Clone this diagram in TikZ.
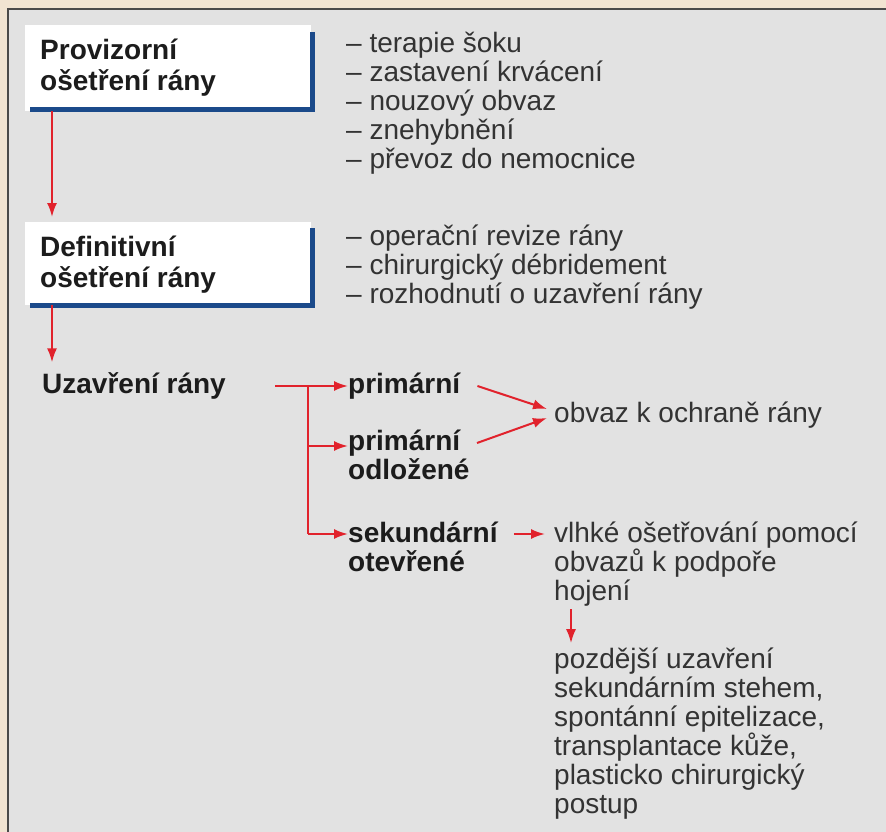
\documentclass[tikz,border=0pt]{standalone}
\usepackage{fontspec}
\setmainfont{Liberation Sans}
\usetikzlibrary{arrows.meta,calc}
\definecolor{bgbeige}{HTML}{F1E4D2}
\definecolor{panelgray}{HTML}{E2E2E2}
\definecolor{framegray}{HTML}{4A4A4A}
\definecolor{boxblue}{HTML}{1B4A8A}
\definecolor{arrred}{HTML}{E1222C}
\definecolor{txtdark}{HTML}{333333}
\definecolor{txtbold}{HTML}{1C1C1C}
\begin{document}
\begin{tikzpicture}[x=1pt,y=-1pt,
  whitebox/.style={fill=white,draw=none,anchor=north west,inner sep=0pt,minimum width=286pt},
  bluel/.style={draw=boxblue,line width=5pt,line join=miter},
  boldtxt/.style={font=\fontsize{28}{31}\selectfont\bfseries,text=txtbold,anchor=base west,inner sep=0pt,align=left},
  boldlist/.style={boldtxt,font=\fontsize{28}{29}\selectfont\bfseries},
  regtxt/.style={font=\fontsize{28}{29}\selectfont,text=txtdark,anchor=base west,inner sep=0pt,align=left},
  arr/.style={draw=arrred,line width=2pt,-{Latex[length=14pt,width=10pt]}},
  redline/.style={draw=arrred,line width=2pt}]
\useasboundingbox (0,0) rectangle (886,832);
\fill[bgbeige] (0,0) rectangle (886,832);
\fill[panelgray] (8,9) rectangle (886,832);
\draw[framegray,line width=2pt] (8,832) -- (8,9) -- (886,9);

% box 1 (anchor base west = baseline of the last line)
\node[whitebox,minimum height=86pt] (provbox) at (25,25) {};
\draw[bluel] (30,110) -- (312,110) -- (312,32);
\node[boldtxt] (prov) at (40,91) {Provizorní\\ošetření rány};

% box 2
\node[whitebox,minimum height=83pt] (defbox) at (25,222) {};
\draw[bluel] (30,305) -- (312,305) -- (312,228);
\node[boldtxt] (def) at (40,287) {Definitivní\\ošetření rány};

% lists
\node[regtxt] (list1) at (346,168) {– terapie šoku\\– zastavení krvácení\\– nouzový obvaz\\– znehybnění\\– převoz do nemocnice};
\node[regtxt] (list2) at (346,303) {– operační revize rány\\– chirurgický débridement\\– rozhodnutí o uzavření rány};

% closure
\node[boldtxt] (uz) at (42,393) {Uzavření rány};
\node[boldtxt] (prim) at (348,393) {primární};
\node[boldlist] (primodl) at (348,479) {primární\\odložené};
\node[boldlist] (sek) at (348,571) {sekundární\\otevřené};
\node[regtxt] (obv) at (554,422) {obvaz k ochraně rány};
\node[regtxt] (vlhke) at (554,600) {vlhké ošetřování pomocí\\obvazů k podpoře\\hojení};
\node[regtxt] (pozd) at (554,813) {pozdější uzavření\\sekundárním stehem,\\spontánní epitelizace,\\transplantace kůže,\\plasticko chirurgický\\postup};

% connectors
\draw[arr] ([xshift=27pt]provbox.south west) -- ([xshift=27pt,yshift=5pt]defbox.north west);
\draw[arr] ([xshift=27pt]defbox.south west) -- ++(0,57);

\coordinate (brstart) at (275,386);
\coordinate (fork1) at (308,386);
\coordinate (fork2) at (308,446);
\coordinate (fork3) at (308,534);
\draw[redline] (fork1) -- (fork3);
\draw[arr] (brstart) -- (brstart -| prim.west);
\draw[arr] (fork2) -- (fork2 -| primodl.west);
\draw[arr] (fork3) -- (fork3 -| sek.west);

\draw[arr] ($(prim.base east)+(17,-7)$) -- ($(obv.base west)+(-7,-13)$);
\draw[arr] ($(primodl.base west)+(129,-36)$) -- ($(obv.base west)+(-7,-4)$);
\coordinate (sekout) at ($(sek.base east)+(16,-37)$);
\draw[arr] (sekout) -- ($(sekout -| vlhke.west)+(-9,0)$);
\draw[arr] ($(vlhke.south west)+(17,3)$) -- ($(pozd.north west)+(17,-4)$);
\end{tikzpicture}
\end{document}
